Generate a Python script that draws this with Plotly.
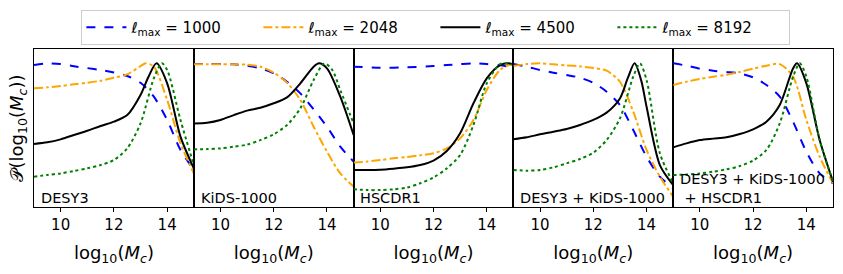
import plotly.graph_objects as go

panels = ["DESY3", "KiDS-1000", "HSCDR1", "DESY3 + KiDS-1000", "DESY3 + KiDS-1000<br> + HSCDR1"]
lmax_labels = ["1000", "2048", "4500", "8192"]

# x grids and values per panel, per lmax (normalised posteriors)
data = {
    "DESY3": {
        "1000": ([9, 9.5, 10, 10.5, 11, 11.5, 12, 12.5, 13, 13.5, 14, 14.5, 15],
                 [0.988, 1.0, 0.995, 0.98, 0.967, 0.954, 0.937, 0.912, 0.865, 0.768, 0.606, 0.397, 0.258]),
        "2048": ([9, 9.5, 10, 10.5, 11, 11.5, 12, 12.5, 13, 13.2, 13.5, 14, 14.5, 15],
                 [0.826, 0.833, 0.842, 0.854, 0.865, 0.879, 0.900, 0.923, 0.981, 1.0, 0.977, 0.745, 0.443, 0.234]),
        "4500": ([9, 9.5, 10, 10.5, 11, 11.5, 12, 12.5, 13, 13.3, 13.6, 14, 14.5, 15],
                 [0.439, 0.450, 0.471, 0.501, 0.531, 0.564, 0.594, 0.640, 0.780, 0.907, 1.0, 0.861, 0.490, 0.269]),
        "8192": ([9, 9.5, 10, 10.5, 11, 11.5, 12, 12.5, 13, 13.5, 13.8, 14, 14.5, 15],
                 [0.211, 0.223, 0.234, 0.251, 0.269, 0.292, 0.327, 0.408, 0.582, 0.896, 1.0, 0.954, 0.606, 0.292]),
    },
    "KiDS-1000": {
        "1000": ([9, 9.5, 10, 10.5, 11, 11.5, 12, 12.5, 13, 13.5, 14, 14.5, 15],
                 [0.995, 0.995, 0.995, 0.993, 0.984, 0.965, 0.930, 0.872, 0.791, 0.680, 0.559, 0.420, 0.316]),
        "2048": ([9, 9.5, 10, 10.5, 11, 11.5, 12, 12.5, 13, 13.5, 14, 14.5, 15],
                 [0.993, 0.993, 0.993, 0.993, 0.991, 0.977, 0.935, 0.865, 0.745, 0.559, 0.385, 0.234, 0.142]),
        "4500": ([9, 9.5, 10, 10.5, 11, 11.5, 12, 12.5, 13, 13.5, 13.7, 14, 14.5, 15],
                 [0.582, 0.587, 0.606, 0.640, 0.671, 0.691, 0.722, 0.763, 0.861, 0.977, 1.0, 0.965, 0.768, 0.501]),
        "8192": ([9, 9.5, 10, 10.5, 11, 11.5, 12, 12.5, 13, 13.5, 13.9, 14.2, 14.5, 15],
                 [0.401, 0.403, 0.408, 0.420, 0.434, 0.466, 0.506, 0.571, 0.687, 0.884, 1.0, 0.954, 0.814, 0.582]),
    },
    "HSCDR1": {
        "1000": ([9, 10, 11, 12, 12.5, 13, 13.5, 14, 14.5, 15],
                 [0.977, 0.970, 0.972, 0.981, 0.988, 0.995, 1.0, 0.995, 0.986, 0.972]),
        "2048": ([9, 9.5, 10, 10.5, 11, 11.5, 12, 12.5, 13, 13.5, 14, 14.5, 15],
                 [0.309, 0.316, 0.327, 0.339, 0.348, 0.360, 0.374, 0.408, 0.478, 0.606, 0.814, 0.954, 1.0]),
        "4500": ([9, 9.5, 10, 10.5, 11, 11.5, 12, 12.5, 13, 13.5, 14, 14.5, 14.8, 15],
                 [0.258, 0.258, 0.260, 0.267, 0.276, 0.292, 0.323, 0.390, 0.513, 0.722, 0.896, 0.988, 1.0, 0.993]),
        "8192": ([9, 9.5, 10, 10.5, 11, 11.5, 12, 12.5, 13, 13.5, 14, 14.5, 14.8, 15],
                 [0.123, 0.118, 0.118, 0.123, 0.135, 0.165, 0.206, 0.269, 0.362, 0.571, 0.861, 0.995, 1.0, 0.986]),
    },
    "DESY3 + KiDS-1000": {
        "1000": ([9, 9.5, 10, 10.5, 11, 11.5, 12, 12.5, 13, 13.5, 14, 14.5, 15],
                 [0.995, 0.977, 0.954, 0.935, 0.919, 0.900, 0.865, 0.803, 0.710, 0.536, 0.350, 0.211, 0.130]),
        "2048": ([9, 9.5, 10, 10.5, 11, 11.5, 12, 12.5, 13, 13.5, 14, 14.5, 15],
                 [0.981, 0.995, 1.0, 0.993, 0.986, 0.979, 0.967, 0.949, 0.872, 0.664, 0.397, 0.211, 0.072]),
        "4500": ([9, 9.5, 10, 10.5, 11, 11.5, 12, 12.5, 13, 13.3, 13.55, 13.8, 14, 14.5, 15],
                 [0.471, 0.485, 0.506, 0.524, 0.543, 0.571, 0.606, 0.657, 0.756, 0.900, 1.0, 0.880, 0.698, 0.292, 0.153]),
        "8192": ([9, 9.5, 10, 10.5, 11, 11.5, 12, 12.5, 13, 13.5, 13.75, 14, 14.5, 15],
                 [0.258, 0.253, 0.258, 0.276, 0.304, 0.334, 0.378, 0.466, 0.617, 0.907, 1.0, 0.884, 0.374, 0.165]),
    },
    "DESY3 + KiDS-1000<br> + HSCDR1": {
        "1000": ([9, 9.5, 10, 10.5, 11, 11.5, 12, 12.5, 13, 13.5, 14, 14.5, 15],
                 [1.0, 0.984, 0.963, 0.949, 0.940, 0.930, 0.903, 0.849, 0.768, 0.594, 0.385, 0.234, 0.165]),
        "2048": ([9, 9.5, 10, 10.5, 11, 11.5, 12, 12.5, 13, 13.5, 14, 14.5, 15],
                 [0.849, 0.872, 0.891, 0.907, 0.921, 0.940, 0.963, 0.984, 0.995, 0.907, 0.606, 0.350, 0.165]),
        "4500": ([9, 9.5, 10, 10.5, 11, 11.5, 12, 12.5, 13, 13.5, 13.65, 14, 14.5, 15],
                 [0.415, 0.443, 0.466, 0.476, 0.485, 0.508, 0.541, 0.594, 0.710, 0.965, 1.0, 0.861, 0.466, 0.176]),
        "8192": ([9, 9.5, 10, 10.5, 11, 11.5, 12, 12.5, 13, 13.5, 13.75, 14, 14.5, 15],
                 [0.223, 0.226, 0.234, 0.246, 0.262, 0.285, 0.323, 0.397, 0.582, 0.907, 1.0, 0.907, 0.466, 0.176]),
    },
}

colors = {"1000": "#0000ff", "2048": "#ffa500", "4500": "#000000", "8192": "#008000"}
dashes = {"1000": "dash", "2048": "dashdot", "4500": "solid", "8192": "dot"}

fig = go.Figure()
n = len(panels)
font_family = "DejaVu Sans"

for i, p in enumerate(panels):
    ax = "" if i == 0 else str(i + 1)
    for lm in lmax_labels:
        xs, ys = data[p][lm]
        fig.add_trace(go.Scatter(
            x=xs, y=ys, mode="lines",
            line=dict(color=colors[lm], dash=dashes[lm], width=2, shape="spline", smoothing=0.8),
            name="<i>ℓ</i><sub>max</sub> = " + lm,
            legendgroup=lm, showlegend=(i == 0),
            xaxis="x" + ax, yaxis="y" + ax,
        ))
    dom = [i / n, (i + 1) / n]
    fig.layout["xaxis" + ax] = dict(
        domain=dom, range=[9, 15], tickvals=[10, 12, 14], ticktext=["10", "12", "14"],
        ticks="outside", ticklen=4, tickcolor="black", showline=True, linecolor="black",
        linewidth=1, mirror=True, showgrid=False, zeroline=False,
        tickfont=dict(size=15, color="black", family=font_family),
        title=dict(text="log<sub>10</sub>(<i>M<sub>c</sub></i>)", font=dict(size=18, color="black", family=font_family), standoff=13),
        anchor="y" + ax,
    )
    fig.layout["yaxis" + ax] = dict(
        domain=[0, 1], range=[0, 1.1], showticklabels=False, ticks="",
        showline=True, linecolor="black", linewidth=1, mirror=True,
        showgrid=False, zeroline=False, anchor="x" + ax,
        title=dict(text="𝒫(log<sub>10</sub>(<i>M<sub>c</sub></i>))" if i == 0 else "",
                   font=dict(size=18, color="black", family=font_family), standoff=4),
    )
    fig.add_annotation(
        text=p, xref="x" + ax + " domain", yref="y" + ax + " domain",
        x=0.03, y=-0.006, xanchor="left", yanchor="bottom", showarrow=False, align="left",
        font=dict(size=14.5, color="black", family=font_family),
    )

fig.update_layout(
    width=843, height=274,
    margin=dict(l=34, r=10, t=49, b=67, autoexpand=False),
    paper_bgcolor="white", plot_bgcolor="white",
    font=dict(family=font_family, color="black"),
    legend=dict(orientation="h", x=0.503, xanchor="center", y=1.247, yanchor="top",
                bordercolor="#cccccc", borderwidth=1, font=dict(size=15, family=font_family),
                entrywidth=122, entrywidthmode="pixels", itemwidth=40),
)

fig.write_html("out.html", config={"displayModeBar": False},
               post_script="document.body.style.margin='0';")
